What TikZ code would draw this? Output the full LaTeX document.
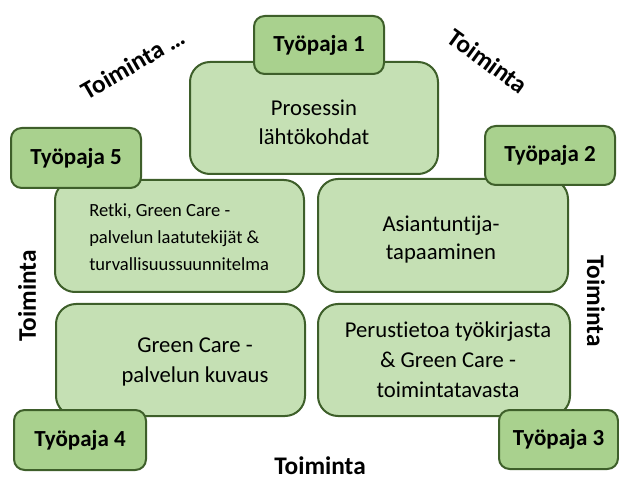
\documentclass[tikz,border=0pt]{standalone}
\usepackage{fontspec}
\setmainfont{Carlito}[Ligatures={NoCommon,NoContextual}]
\usetikzlibrary{fit}

\definecolor{boxfill}{HTML}{C5E0B4}
\definecolor{tabfill}{HTML}{A9D18E}
\definecolor{edge}{HTML}{3E5F2A}

\tikzset{
  stage/.style={draw=edge, fill=boxfill, line width=1.5pt,
    rounded corners=15pt, inner sep=0pt},
  tab/.style={draw=edge, fill=tabfill, line width=1.5pt,
    rounded corners=8pt, inner sep=0pt},
  tabtext/.style={inner sep=0pt, font=\fontsize{17.25}{20}\selectfont\bfseries},
  stagetext/.style={align=center, inner sep=0pt,
    font=\fontsize{17}{22.5}\selectfont},
  smalltext/.style={align=left, inner sep=0pt,
    font=\fontsize{13.9}{20}\selectfont},
  activity/.style={inner sep=0pt, font=\fontsize{19}{22}\selectfont\bfseries}
}

\begin{document}
\begin{tikzpicture}[x=0.75pt, y=-0.75pt]
\useasboundingbox (0,0) rectangle (619,478);

% stage boxes
\node[stage, fit={(190,62) (438,174)}] (start) {};
\node[stage, fit={(55,180) (304,292)}] (trip) {};
\node[stage, fit={(318,179) (568,292)}] (expert) {};
\node[stage, fit={(56,304) (305,416)}] (service) {};
\node[stage, fit={(318,304) (570,416)}] (basics) {};

% stage texts
\node[stagetext, font=\fontsize{17}{21.75}\selectfont] (start-t) at (314,122) {Prosessin\\lähtökohdat};
\node[smalltext, anchor=west] (trip-t) at (89,237) {Retki, Green Care -\\palvelun laatutekijät \&\\turvallisuussuunnitelma};
\node[stagetext, font=\fontsize{17}{21}\selectfont] (expert-t) at (441,240) {Asiantuntija-\\tapaaminen};
\node[stagetext] (service-t) at (195,362) {Green Care -\\palvelun kuvaus};
\node[stagetext] (basics-t) at (448,360) {Perustietoa työkirjasta\\\& Green Care -\\toimintatavasta};

% workshop tabs
\node[tab, fit={(254,16) (384,74)}] (w1) {};
\node[tab, fit={(11,128) (141,188)}] (w5) {};
\node[tab, fit={(485,126) (615,185)}] (w2) {};
\node[tab, fit={(14,410) (146,470)}] (w4) {};
\node[tab, fit={(499,410) (618,469)}] (w3) {};

\node[tabtext] (w1-t) at (w1.center) {Työpaja 1};
\node[tabtext] (w5-t) at (w5.center) {Työpaja 5};
\node[tabtext] (w2-t) at (w2.center) {Työpaja 2};
\node[tabtext] (w4-t) at (w4.center) {Työpaja 4};
\node[tabtext] (w3-t) at (w3.center) {Työpaja 3};

% activities between the workshops
\node[activity, rotate=30] (a51) at (133,64) {Toiminta …};
\node[activity, rotate=-36] (a12) at (488,61) {Toiminta};
\node[activity, rotate=-90] (a23) at (596,301) {Toiminta};
\node[activity] (a34) at (320,466) {Toiminta};
\node[activity, rotate=90] (a45) at (27,296) {Toiminta};
\end{tikzpicture}
\end{document}
